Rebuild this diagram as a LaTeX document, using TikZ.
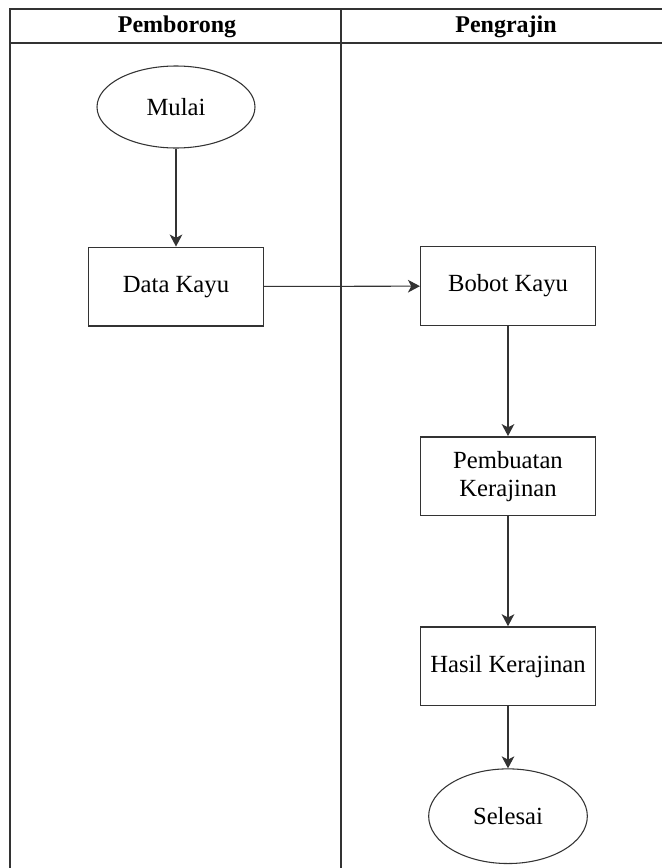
\documentclass[tikz,border=0pt]{standalone}
\usepackage{fontspec}
\setmainfont{Liberation Serif}
\usepackage{xcolor}
\usetikzlibrary{positioning, shapes.geometric, arrows.meta}
\definecolor{laneline}{HTML}{333333}

\begin{document}
\begin{tikzpicture}[
  x=0.75pt, y=-0.75pt,
  font=\fontsize{18.5}{21}\selectfont,
  st/.style={draw=laneline, line width=1.1pt, minimum width=131pt, minimum height=59pt, align=center, inner sep=2pt},
  term/.style={draw=laneline, line width=0.8pt, ellipse, minimum width=118.5pt, minimum height=61.5pt},
  arr/.style={-{Stealth[length=9pt,width=9.5pt,inset=2.5pt]}, line width=0.8pt, draw=laneline}]
\useasboundingbox (0,0) rectangle (661,868);
\fill[white] (0,0) rectangle (661,868);

% swimlanes
\draw[laneline, line width=1.6pt] (10,880) -- (10,9) -- (670,9);
\draw[laneline, line width=1.6pt] (10,43) -- (670,43);
\draw[laneline, line width=1.6pt] (341,9) -- (341,880);
\node[font=\fontsize{18}{20}\selectfont\bfseries](hpem) at (177,27){Pemborong};
\node[font=\fontsize{18}{20}\selectfont\bfseries](hpen) at (506,27){Pengrajin};

\node[term](mulai) at (176,107){Mulai};
\node[st, below=73.5pt of mulai](data){Data Kayu};
\node[st](bobot) at (508,286){Bobot Kayu};
\node[st, below=82.5pt of bobot](buat){Pembuatan\\Kerajinan};
\node[st, below=82.5pt of buat](hasil){Hasil Kerajinan};
\node[term, minimum width=119pt, minimum height=71pt, below=46.5pt of hasil](selesai){Selesai};

\foreach \frm/\tto in {mulai/data, data/bobot, bobot/buat, buat/hasil, hasil/selesai}
  {\draw[arr](\frm)--(\tto);}

\end{tikzpicture}
\end{document}
